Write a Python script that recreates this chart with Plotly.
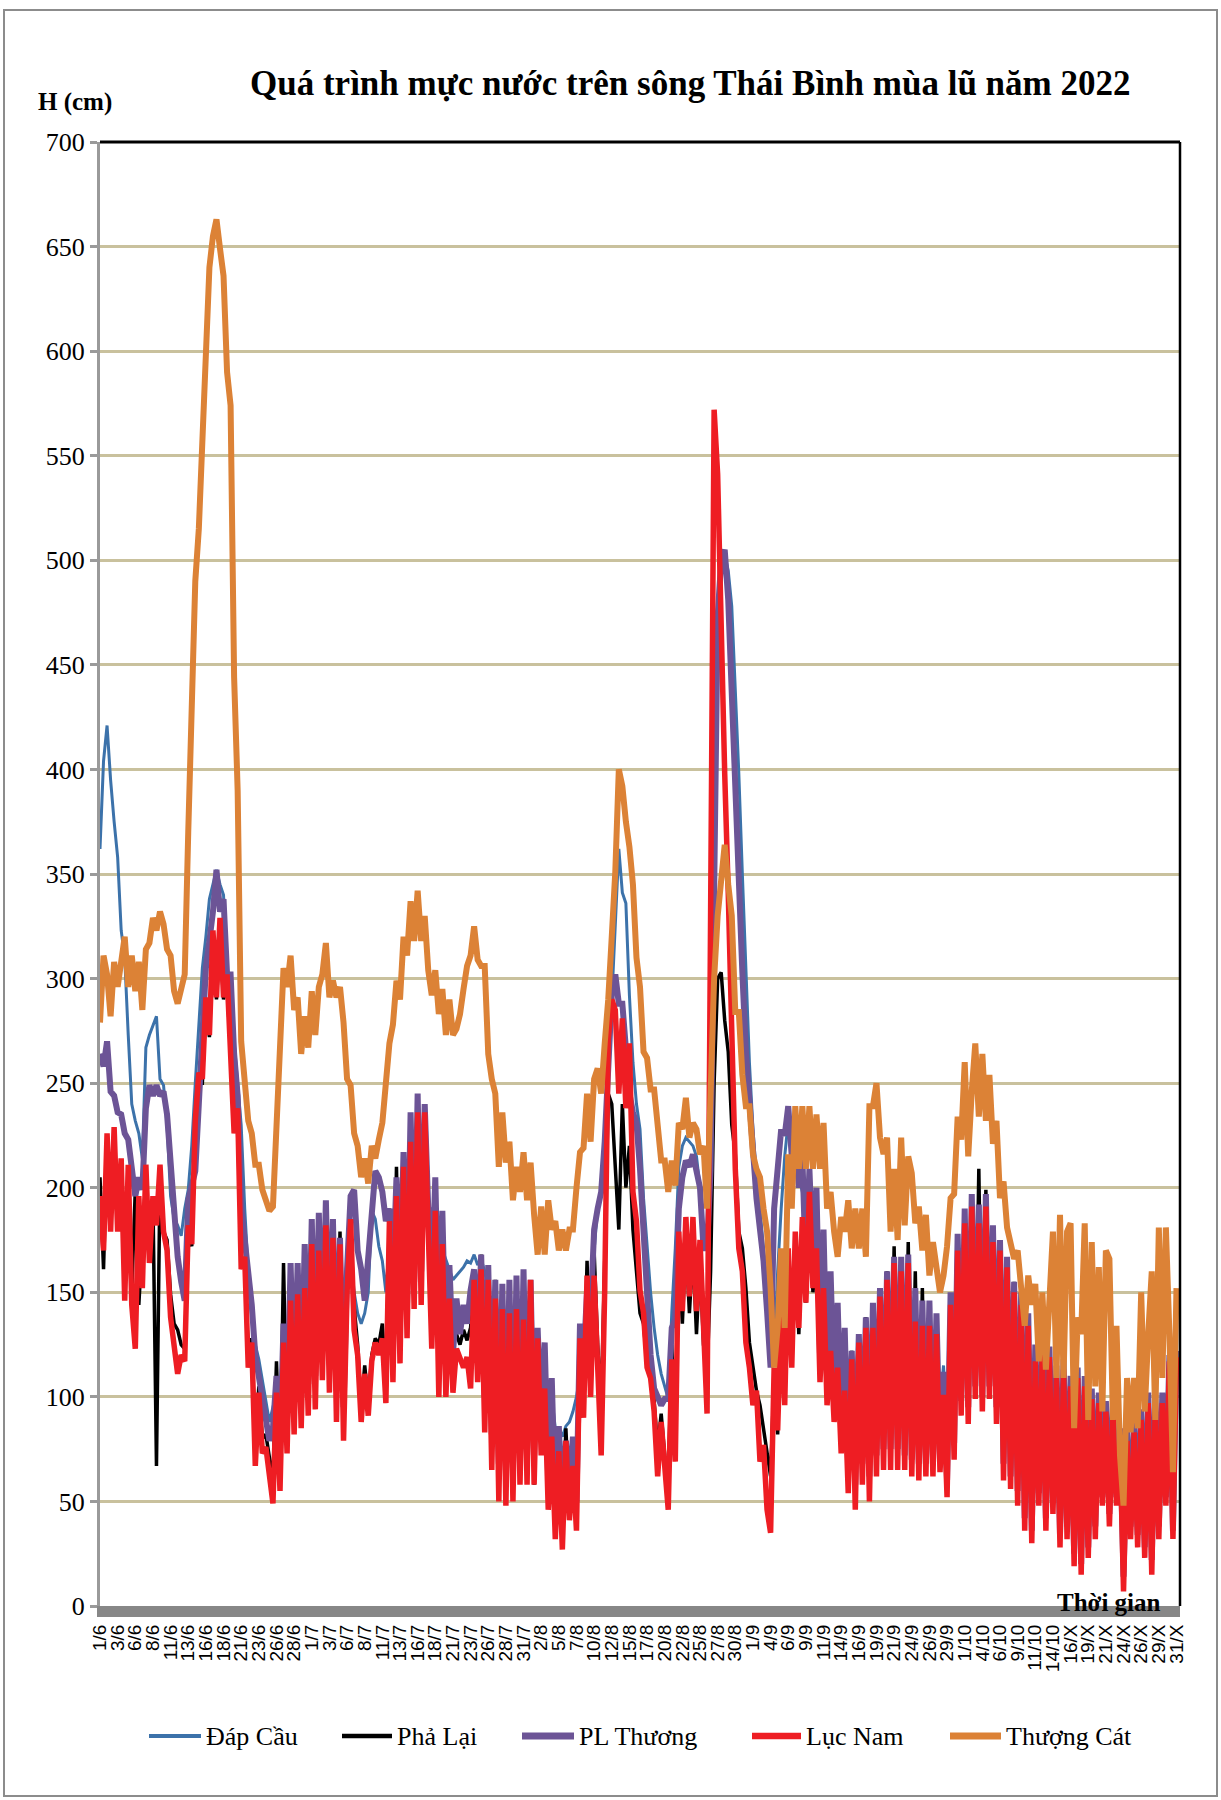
import pandas as pd
import plotly.graph_objects as go

# Water level (cm) on the Thai Binh river system, readings at 00h and 12h
# from 1/6/2022 to 31/10/2022 (306 readings per station).
DAP_CAU = [
    362, 404, 421, 395, 375, 358, 323, 310, 273, 240,
    232, 226, 214, 267, 273, 278, 282, 252, 249, 230,
    196, 185, 182, 177, 190, 199, 220, 250, 276, 305,
    320, 338, 345, 352, 345, 340, 300, 290, 270, 250,
    230, 190, 160, 138, 125, 118, 108, 100, 88, 95,
    102, 85, 120, 95, 140, 105, 145, 110, 150, 115,
    165, 118, 170, 125, 180, 125, 172, 115, 170, 110,
    160, 170, 150, 140, 135, 140, 150, 189, 185, 172,
    165, 150, 175, 155, 185, 160, 195, 165, 205, 175,
    210, 180, 205, 190, 190, 180, 175, 170, 165, 160,
    156, 158, 160, 162, 165, 164, 168, 163, 166, 160,
    150, 110, 140, 100, 138, 95, 138, 98, 140, 100,
    135, 100, 140, 95, 120, 100, 110, 90, 100, 85,
    85, 81, 86, 88, 93, 100, 110, 128, 140, 155,
    170, 190, 200, 217, 255, 292, 330, 362, 341, 336,
    292, 260, 240, 228, 195, 171, 150, 133, 120, 111,
    105, 99, 140, 171, 210, 220, 224, 222, 220, 215,
    200, 175, 172, 205, 350, 460, 495, 503, 495, 478,
    440, 398, 350, 303, 260, 228, 205, 190, 170, 152,
    130, 120, 160, 190, 215, 232, 225, 215, 205, 198,
    190, 195, 180, 178, 160, 165, 145, 150, 135, 138,
    120, 125, 110, 122, 105, 130, 100, 138, 100, 140,
    105, 150, 100, 158, 105, 160, 100, 160, 98, 162,
    95, 150, 92, 145, 92, 140, 92, 135, 95, 115,
    80, 140, 90, 165, 100, 180, 100, 185, 110, 180,
    105, 185, 108, 170, 100, 165, 80, 160, 75, 150,
    70, 140, 62, 132, 108, 118, 70, 120, 60, 118,
    62, 108, 50, 112, 52, 105, 42, 108, 38, 105,
    45, 100, 52, 98, 60, 94, 55, 94, 60, 82,
    30, 82, 50, 85, 45, 90, 42, 98, 38, 98,
    50, 98, 60, 118, 50, 120,
]

PHA_LAI = [
    205, 161, 222, 185, 225, 185, 210, 155, 205, 150,
    199, 144, 175, 205, 170, 195, 67, 205, 179, 175,
    149, 135, 132, 125, 123, 180, 172, 228, 250, 250,
    288, 272, 315, 290, 320, 290, 298, 262, 228, 235,
    165, 165, 120, 128, 75, 105, 80, 82, 72, 60,
    117, 65, 164, 80, 155, 90, 150, 92, 155, 98,
    170, 100, 168, 110, 180, 108, 178, 95, 179, 88,
    155, 180, 143, 125, 95, 115, 98, 120, 128, 125,
    135, 105, 190, 112, 210, 120, 215, 130, 225, 145,
    230, 150, 225, 178, 130, 187, 130, 145, 125, 135,
    128, 130, 125, 132, 127, 133, 160, 130, 168, 95,
    160, 75, 156, 60, 150, 58, 142, 60, 145, 65,
    140, 62, 150, 58, 130, 78, 110, 55, 90, 42,
    82, 40, 85, 48, 75, 45, 130, 95, 165, 105,
    170, 125, 95, 165, 245, 240, 210, 180, 240, 200,
    220, 180, 160, 140, 135, 115, 110, 98, 75, 92,
    72, 58, 125, 80, 171, 135, 175, 140, 170, 130,
    165, 125, 110, 160, 250, 300, 303, 280, 265, 230,
    216, 179, 171, 152, 126, 114, 103, 96, 84, 75,
    62, 110, 82, 138, 98, 165, 115, 175, 130, 180,
    145, 190, 150, 170, 110, 150, 100, 125, 92, 118,
    80, 110, 62, 122, 55, 130, 62, 138, 58, 138,
    68, 150, 70, 160, 70, 172, 70, 165, 70, 174,
    66, 160, 65, 152, 66, 140, 66, 132, 68, 111,
    60, 148, 75, 172, 95, 185, 92, 195, 100, 209,
    98, 199, 100, 180, 92, 172, 66, 166, 60, 155,
    52, 148, 42, 138, 38, 122, 52, 113, 42, 120,
    48, 112, 34, 115, 38, 108, 25, 112, 22, 108,
    28, 102, 38, 100, 50, 95, 46, 95, 50, 82,
    20, 82, 36, 85, 34, 90, 30, 98, 21, 98,
    36, 98, 50, 118, 38, 150,
]

PL_THUONG = [
    264, 258, 270, 246, 244, 236, 235, 226, 223, 211,
    196, 205, 199, 238, 249, 244, 249, 244, 246, 235,
    211, 188, 167, 155, 146, 194, 200, 208, 240, 273,
    305, 318, 332, 352, 332, 338, 302, 302, 264, 244,
    191, 175, 161, 144, 120, 110, 102, 91, 79, 85,
    110, 75, 135, 90, 164, 100, 164, 100, 173, 106,
    185, 110, 188, 122, 194, 118, 185, 103, 176, 95,
    161, 196, 199, 170, 161, 146, 165, 191, 208, 205,
    198, 184, 190, 156, 205, 150, 217, 145, 236, 155,
    245, 160, 240, 190, 150, 205, 130, 189, 118, 163,
    120, 147, 130, 144, 135, 151, 161, 125, 168, 100,
    163, 82, 156, 68, 154, 65, 156, 66, 158, 72,
    161, 72, 156, 72, 133, 85, 126, 60, 109, 48,
    86, 42, 79, 55, 81, 50, 135, 116, 151, 140,
    180, 190, 198, 222, 264, 292, 302, 288, 288, 270,
    245, 236, 231, 209, 175, 140, 120, 104, 99, 96,
    99, 99, 133, 137, 190, 205, 213, 210, 216, 209,
    200, 171, 171, 209, 360, 473, 500, 505, 481, 435,
    379, 341, 303, 265, 239, 216, 195, 180, 165, 141,
    114, 190, 209, 228, 225, 239, 215, 225, 200, 215,
    160, 209, 165, 200, 120, 180, 108, 160, 100, 145,
    85, 133, 66, 122, 58, 130, 68, 138, 62, 145,
    72, 152, 75, 160, 75, 167, 75, 167, 72, 168,
    70, 152, 68, 146, 68, 146, 68, 140, 72, 112,
    60, 150, 78, 178, 98, 190, 95, 197, 105, 192,
    100, 197, 105, 182, 95, 175, 68, 167, 62, 155,
    55, 150, 42, 140, 36, 125, 54, 126, 42, 124,
    50, 115, 34, 118, 38, 110, 25, 114, 20, 110,
    28, 104, 38, 102, 52, 98, 44, 98, 52, 85,
    14, 85, 38, 88, 34, 94, 28, 102, 22, 102,
    38, 102, 52, 120, 36, 122,
]

LUC_NAM = [
    196, 170, 226, 179, 229, 179, 214, 146, 211, 144,
    123, 196, 152, 211, 164, 196, 182, 211, 179, 170,
    138, 126, 111, 120, 117, 182, 173, 232, 255, 252,
    291, 273, 323, 291, 329, 291, 302, 264, 226, 238,
    161, 167, 114, 126, 67, 102, 73, 76, 64, 49,
    102, 55, 126, 73, 146, 82, 149, 85, 152, 91,
    173, 94, 170, 108, 182, 102, 176, 88, 173, 79,
    150, 185, 132, 120, 88, 111, 91, 117, 126, 120,
    128, 97, 184, 107, 196, 116, 210, 128, 222, 142,
    236, 144, 236, 175, 123, 189, 100, 173, 100, 147,
    102, 123, 119, 114, 119, 104, 156, 107, 161, 83,
    156, 65, 147, 50, 142, 48, 140, 50, 142, 58,
    137, 58, 156, 58, 128, 72, 104, 46, 81, 32,
    74, 27, 79, 41, 67, 36, 128, 90, 158, 100,
    158, 119, 72, 151, 271, 290, 285, 245, 281, 238,
    269, 198, 184, 151, 140, 114, 109, 93, 62, 88,
    65, 46, 118, 69, 179, 141, 186, 148, 186, 141,
    175, 133, 92, 330, 572, 541, 454, 398, 341, 265,
    209, 171, 160, 126, 114, 96, 103, 69, 77, 46,
    35, 114, 84, 141, 96, 171, 114, 179, 133, 186,
    145, 198, 152, 171, 107, 152, 96, 122, 88, 114,
    73, 103, 54, 118, 46, 126, 58, 133, 50, 133,
    62, 148, 65, 156, 65, 164, 65, 160, 65, 164,
    62, 136, 60, 134, 62, 134, 62, 130, 64, 101,
    52, 144, 70, 170, 91, 183, 87, 191, 99, 183,
    93, 191, 99, 174, 87, 170, 60, 162, 56, 150,
    48, 144, 36, 134, 30, 117, 48, 121, 36, 119,
    44, 109, 28, 113, 32, 105, 19, 109, 15, 105,
    23, 99, 32, 97, 48, 93, 38, 93, 48, 79,
    7, 79, 32, 83, 28, 89, 23, 97, 15, 97,
    32, 97, 48, 117, 32, 119,
]

THUONG_CAT = [
    279, 311, 302, 282, 308, 296, 308, 320, 296, 311,
    294, 308, 285, 314, 317, 329, 323, 332, 326, 314,
    311, 294, 288, 294, 302, 370, 440, 490, 515, 560,
    605, 640, 655, 663, 649, 636, 590, 574, 444, 390,
    270, 249, 232, 226, 211, 211, 199, 194, 189, 191,
    225, 264, 305, 296, 311, 285, 291, 264, 282, 267,
    294, 273, 296, 302, 317, 291, 299, 291, 296, 279,
    252, 249, 226, 220, 205, 214, 202, 220, 214, 223,
    231, 250, 269, 278, 299, 290, 320, 311, 337, 318,
    342, 318, 330, 304, 292, 304, 283, 295, 273, 290,
    273, 276, 283, 295, 306, 311, 325, 309, 306, 306,
    264, 252, 245, 210, 236, 212, 222, 194, 210, 198,
    217, 194, 212, 187, 168, 191, 168, 194, 180, 184,
    170, 180, 170, 180, 180, 200, 217, 219, 245, 222,
    252, 257, 245, 269, 290, 320, 351, 400, 392, 375,
    363, 345, 310, 296, 265, 262, 247, 247, 230, 213,
    213, 198, 213, 201, 231, 228, 243, 224, 231, 228,
    216, 220, 190, 247, 300, 330, 345, 364, 345, 330,
    284, 284, 254, 239, 239, 216, 209, 205, 190, 179,
    152, 114, 133, 171, 133, 216, 190, 239, 209, 239,
    209, 239, 209, 235, 209, 231, 190, 198, 179, 167,
    186, 179, 194, 171, 190, 171, 190, 167, 239, 239,
    250, 224, 216, 224, 179, 209, 175, 224, 182, 215,
    207, 183, 191, 170, 187, 158, 174, 162, 150, 158,
    172, 195, 197, 234, 223, 260, 215, 246, 269, 234,
    264, 232, 254, 221, 232, 195, 203, 181, 174, 166,
    170, 150, 134, 158, 144, 154, 117, 150, 113, 146,
    179, 109, 187, 109, 179, 183, 85, 138, 130, 183,
    89, 174, 105, 162, 93, 170, 166, 89, 134, 72,
    48, 109, 83, 109, 85, 150, 93, 130, 160, 89,
    181, 109, 181, 130, 64, 152,
]

TICK_LABELS = [
    "1/6", "3/6", "6/6", "8/6", "11/6", "13/6", "16/6", "18/6", "21/6", "23/6", "26/6", "28/6",
    "1/7", "3/7", "6/7", "8/7", "11/7", "13/7", "16/7", "18/7", "21/7", "23/7", "26/7", "28/7", "31/7",
    "2/8", "5/8", "7/8", "10/8", "12/8", "15/8", "17/8", "20/8", "22/8", "25/8", "27/8", "30/8",
    "1/9", "4/9", "6/9", "9/9", "11/9", "14/9", "16/9", "19/9", "21/9", "24/9", "26/9", "29/9",
    "1/10", "4/10", "6/10", "9/10", "11/10", "14/10", "16/X", "19/X", "21/X", "24/X", "26/X",
    "29/X", "31/X",
]

STATIONS = ["Đáp Cầu", "Phả Lại", "PL Thương", "Lục Nam", "Thượng Cát"]
SERIES = [DAP_CAU, PHA_LAI, PL_THUONG, LUC_NAM, THUONG_CAT]
COLORS = ["#3C72AA", "#000000", "#6C5496", "#EE1D23", "#DC8236"]
WIDTHS = [3, 3.5, 6, 5.5, 6]

for name, s in zip(STATIONS, SERIES):
    assert len(s) == 306, (name, len(s))

times = pd.date_range("2022-06-01", periods=len(LUC_NAM), freq="12h")
tick_times = pd.date_range("2022-06-01", periods=len(TICK_LABELS), freq="60h")

# page and plot-area geometry in pixels
W, H = 1221, 1800
L, R, T, B = 100, 1180, 142, 1606


def px(x):
    return (x - L) / (R - L)


def py(y):
    return (B - y) / (B - T)


fig = go.Figure()
for name, s, c, w in zip(STATIONS, SERIES, COLORS, WIDTHS):
    fig.add_trace(go.Scatter(
        x=times, y=s, mode="lines", name=name,
        line=dict(color=c, width=w), showlegend=False,
    ))

serif = "Liberation Serif"
sans = "Liberation Sans"

annotations = [
    dict(text="<b>Quá trình mực nước trên sông Thái Bình mùa lũ năm 2022</b>",
         x=px(690), y=py(84), xref="paper", yref="paper", showarrow=False,
         xanchor="center", yanchor="middle", font=dict(family=serif, size=35, color="black")),
    dict(text="<b>H (cm)</b>", x=px(36), y=py(102), xref="paper", yref="paper",
         showarrow=False, xanchor="left", yanchor="middle",
         font=dict(family=serif, size=25, color="black")),
    dict(text="<b>Thời gian</b>", x=px(1163), y=py(1602), xref="paper", yref="paper",
         showarrow=False, xanchor="right", yanchor="middle",
         font=dict(family=serif, size=25, color="black")),
]

shapes = [
    # outer frame of the picture
    dict(type="rect", xref="paper", yref="paper", x0=px(4), x1=px(1217), y0=py(1796), y1=py(10),
         line=dict(color="#8C8C8C", width=2), layer="below"),
    # top and right plot borders
    dict(type="line", xref="paper", yref="paper", x0=0, x1=1, y0=1, y1=1,
         line=dict(color="black", width=3)),
    dict(type="line", xref="paper", yref="paper", x0=1, x1=1, y0=0, y1=1,
         line=dict(color="black", width=2.5)),
]

# legend row
legend_lines = [(149, 201), (342, 392), (522, 574), (752, 801), (950, 1001)]
legend_y = 1736
for (x0, x1), name, c, w in zip(legend_lines, STATIONS, COLORS, WIDTHS):
    shapes.append(dict(type="line", xref="paper", yref="paper", x0=px(x0), x1=px(x1),
                       y0=py(legend_y), y1=py(legend_y), line=dict(color=c, width=w + 1)))
    annotations.append(dict(text=name, x=px(x1 + 3), y=py(legend_y), xref="paper", yref="paper",
                            showarrow=False, xanchor="left", yanchor="middle",
                            font=dict(family=serif, size=26, color="black")))

fig.update_layout(
    width=W, height=H,
    margin=dict(l=L, r=W - R, t=T, b=H - B, autoexpand=False),
    paper_bgcolor="white", plot_bgcolor="white",
    showlegend=False,
    font=dict(family=serif, color="black"),
    xaxis=dict(
        type="date", range=["2022-06-01 00:00", "2022-11-01 00:00"],
        tickmode="array", tickvals=list(tick_times), ticktext=TICK_LABELS,
        tickangle=-90, tickfont=dict(family=sans, size=19, color="black"),
        showgrid=False, zeroline=False, showline=True, linecolor="#878787", linewidth=11,
        ticks="", fixedrange=True,
    ),
    yaxis=dict(
        range=[0, 700], tickmode="array", tickvals=list(range(0, 701, 50)),
        tickfont=dict(family=serif, size=26, color="black"),
        showgrid=True, gridcolor="#C9C19D", gridwidth=2.5,
        zeroline=False, showline=True, linecolor="#9A9A9A", linewidth=3,
        ticks="outside", ticklen=7, tickwidth=3, tickcolor="#9A9A9A",
        fixedrange=True,
    ),
    annotations=annotations,
    shapes=shapes,
)

fig.write_html("out.html")
